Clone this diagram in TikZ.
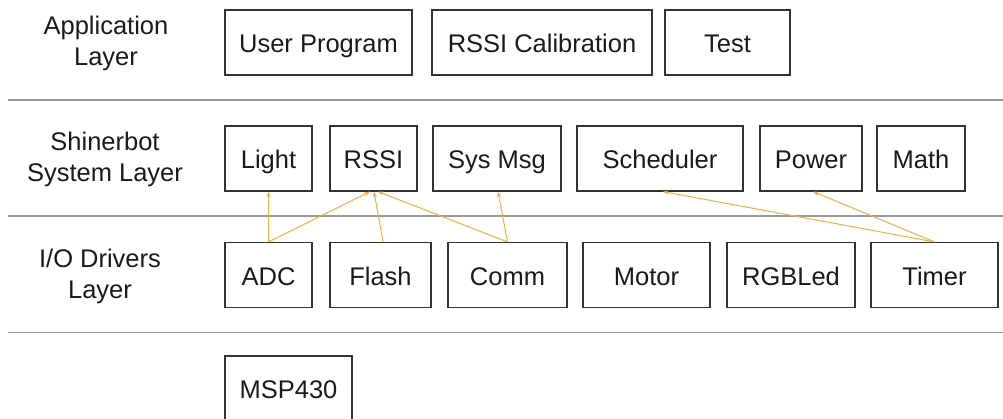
\documentclass[tikz,border=0pt]{standalone}
\usepackage{fontspec}
\setmainfont{Liberation Sans}
\usetikzlibrary{arrows.meta}
\definecolor{boxline}{HTML}{333333}
\definecolor{layerline}{HTML}{9A9A9A}
\definecolor{arr}{HTML}{F2AE45}
\definecolor{txt}{HTML}{1A1A1A}
\begin{document}
\begin{tikzpicture}[x=1pt,y=-1pt,
  box/.style={draw=boxline,line width=1.2pt,minimum height=65pt,inner sep=0pt,text height=22pt,text depth=2pt,text=txt,font=\fontsize{25.5}{29}\selectfont},
  layerlabel/.style={align=center,text=txt,font=\fontsize{25.5}{31}\selectfont},
  sep/.style={draw=layerline,line width=1.4pt},
  dep/.style={draw=arr,line width=1pt,-{Stealth[length=5.5pt,width=4pt]}}]
\useasboundingbox (0,0) rectangle (1003,418);
\begin{scope}
\clip (0,0) rectangle (1003,418);
% separators
\coordinate (s1a) at (8,100); \coordinate (s1b) at (1003,100);
\coordinate (s2a) at (8,216); \coordinate (s2b) at (1003,216);
\coordinate (s3a) at (8,332.5); \coordinate (s3b) at (1003,332.5);
\draw[sep] (s1a) -- (s1b);
\draw[sep] (s2a) -- (s2b);
\draw[sep] (s3a) -- (s3b);
% layer labels
\node[layerlabel] (lapp) at (106,43) {Application\\Layer};
\node[layerlabel] (lsys) at (105,159) {Shinerbot\\System Layer};
\node[layerlabel] (lio) at (100,276) {I/O Drivers\\Layer};
% application layer
\node[box,minimum width=187pt] (up) at (318.5,42.5) {User Program};
\node[box,minimum width=220pt] (rcal) at (542,42.5) {RSSI Calibration};
\node[box,minimum width=125pt] (test) at (727.5,42.5) {Test};
% system layer
\node[box,minimum width=87pt] (light) at (268.5,158.5) {Light};
\node[box,minimum width=87pt] (rssi) at (373.5,158.5) {RSSI};
\node[box,minimum width=128pt] (sysmsg) at (497,158.5) {Sys Msg};
\node[box,minimum width=166pt] (sched) at (660,158.5) {Scheduler};
\node[box,minimum width=102pt] (power) at (811,158.5) {Power};
\node[box,minimum width=88pt] (math) at (921,158.5) {Math};
% io layer
\node[box,minimum width=87pt] (adc) at (268.5,275) {ADC};
\node[box,minimum width=101pt] (flash) at (380.5,275) {Flash};
\node[box,minimum width=119pt] (comm) at (507.5,275) {Comm};
\node[box,minimum width=127pt] (motor) at (646.5,275) {Motor};
\node[box,minimum width=128pt] (rgb) at (791,275) {RGBLed};
\node[box,minimum width=127pt] (timer) at (934.5,275) {Timer};
% hardware
\node[box,minimum width=127pt] (msp) at (288.5,388.5) {MSP430};
\end{scope}
% dependencies
\draw[dep] (adc.north) -- (light.south);
\draw[dep] (adc.north) -- ([xshift=-3.5pt]rssi.south);
\draw[dep] ([xshift=2.5pt]flash.north) -- ([xshift=0.5pt]rssi.south);
\draw[dep] (comm.north) -- ([xshift=4.5pt]rssi.south);
\draw[dep] (comm.north) -- ([xshift=1pt]sysmsg.south);
\draw[dep] (timer.north) -- ([xshift=3pt]sched.south);
\draw[dep] (timer.north) -- ([xshift=2pt]power.south);
\end{tikzpicture}
\end{document}
